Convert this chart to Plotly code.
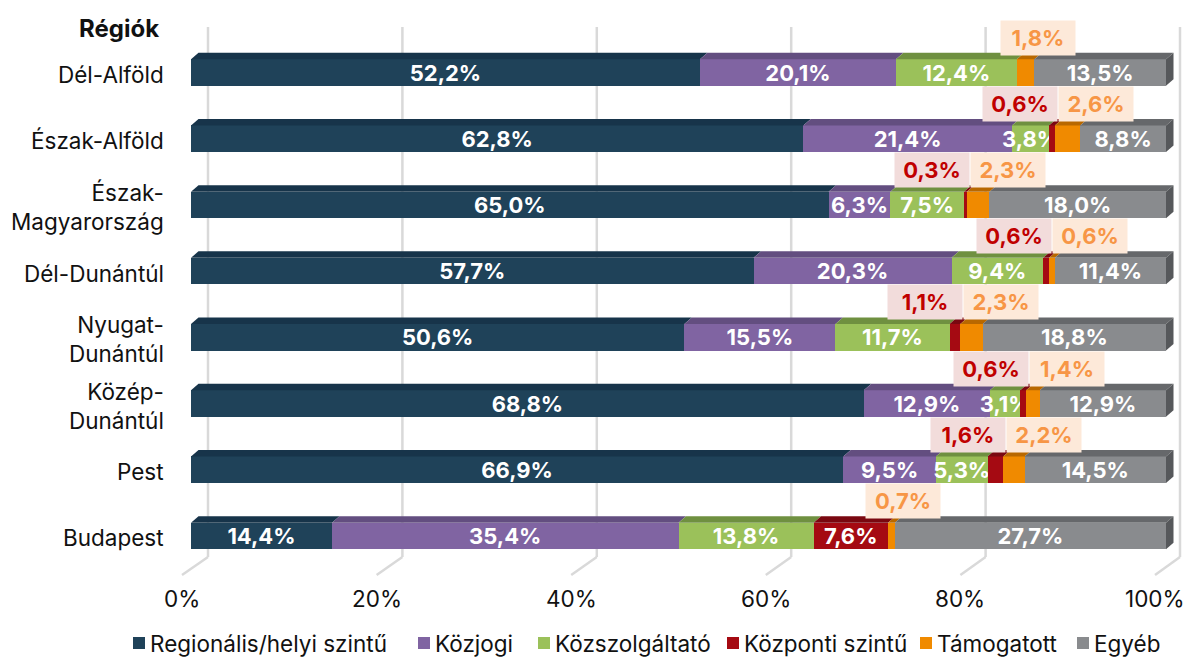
import plotly.graph_objects as go

# ---------------- data ----------------
regions = ["Dél-Alföld", "Észak-Alföld", "Észak-<br>Magyarország", "Dél-Dunántúl",
           "Nyugat-<br>Dunántúl", "Közép-<br>Dunántúl", "Pest", "Budapest"]
series_names = ["Regionális/helyi szintű", "Közjogi", "Közszolgáltató",
                "Központi szintű", "Támogatott", "Egyéb"]
regionalis = [52.2, 62.8, 65.0, 57.7, 50.6, 68.8, 66.9, 14.4]
kozjogi = [20.1, 21.4, 6.3, 20.3, 15.5, 12.9, 9.5, 35.4]
kozszolg = [12.4, 3.8, 7.5, 9.4, 11.7, 3.1, 5.3, 13.8]
kozponti = [0.0, 0.6, 0.3, 0.6, 1.1, 0.6, 1.6, 7.6]
tamogatott = [1.8, 2.6, 2.3, 0.6, 2.3, 1.4, 2.2, 0.7]
egyeb = [13.5, 8.8, 18.0, 11.4, 18.8, 12.9, 14.5, 27.7]
x_ticks = [0, 20, 40, 60, 80, 100]
x_tick_labels = ["0%", "20%", "40%", "60%", "80%", "100%"]

# ---------------- styles ----------------
front_colors = ["#1F4259", "#8064A2", "#9BC15A", "#A50A12", "#F08A00", "#898B8E"]
top_colors = ["#17344A", "#634E80", "#6F9040", "#7A0810", "#B86800", "#66686B"]
side_color = "#56585B"
FONT = "Inter"
W, H = 1191, 658
FS = 22.5               # regular text size
FSB = 22                # bold text size

# page-pixel -> data helpers (plot area spans the full figure)
X0PX, XK = 191.0, 9.75
Y0PX, YK = 72.5, 66.2
def xd(px): return (px - X0PX) / XK
def yd(py): return (py - Y0PX) / YK

BW = 26.5 / YK
DX = 7.5 / XK
DY = 6.5 / YK

def fmt(v): return f"{v:.1f}".replace(".", ",") + "%"

all_series = [regionalis, kozjogi, kozszolg, kozponti, tamogatott, egyeb]
ypos = list(range(len(regions)))

fig = go.Figure()
for k, (name, vals) in enumerate(zip(series_names, all_series)):
    if k == 3:
        texts = [fmt(v) if v >= 5 else "" for v in vals]
    elif k == 4:
        texts = ["" for v in vals]
    else:
        texts = [fmt(v) for v in vals]
    fig.add_trace(go.Bar(
        name=name, y=ypos, x=vals, orientation="h", width=BW,
        marker=dict(color=front_colors[k], line=dict(width=0)),
        text=texts, textposition="inside", insidetextanchor="middle",
        constraintext="none",
        textfont=dict(family=FONT, size=FSB, color="white", weight=700),
        showlegend=False, hoverinfo="skip", cliponaxis=False,
    ))

shapes = []
annotations = []

# back-wall gridlines + floor diagonals
for v in x_ticks:
    gx = xd(208 + 9.72 * v)
    fx = xd(182 + 9.73 * v)
    shapes.append(dict(type="line", layer="below", x0=gx, x1=gx, y0=yd(27), y1=yd(557),
                       line=dict(color="#D9D9D9", width=2.5)))
    shapes.append(dict(type="line", layer="below", x0=gx, x1=fx, y0=yd(557), y1=yd(575),
                       line=dict(color="#D9D9D9", width=2.5)))

# 3D faces and boxed small labels
for i in ypos:
    row = [s[i] for s in all_series]
    tot = sum(row)
    cum = 0.0
    bounds = []
    for v in row:
        a = cum / tot * 100
        cum += v
        b = cum / tot * 100
        bounds.append((a, b))
    yt = i - BW / 2
    yb = i + BW / 2
    for k, (a, b) in enumerate(bounds):
        if b - a <= 0:
            continue
        shapes.append(dict(type="path", layer="above",
                           path=f"M {a},{yt} L {a+DX},{yt-DY} L {b+DX},{yt-DY} L {b},{yt} Z",
                           fillcolor=top_colors[k], line=dict(width=0)))
    b_end = bounds[-1][1]
    shapes.append(dict(type="path", layer="above",
                       path=f"M {b_end},{yt} L {b_end+DX},{yt-DY} L {b_end+DX},{yb-DY} L {b_end},{yb} Z",
                       fillcolor=side_color, line=dict(width=0)))
    # boxed labels above the bar
    ylab = i - 35 / YK
    red_v, org_v = kozponti[i], tamogatott[i]
    org_a, org_b = bounds[4]
    if 0 < red_v < 5:
        junction = org_a + 3 / XK
        annotations.append(dict(x=junction, y=ylab, xanchor="right", yanchor="middle",
                                text=fmt(red_v), showarrow=False, width=72, height=32,
                                bgcolor="#F2DCDB",
                                font=dict(family=FONT, size=FSB, color="#C00000", weight=700)))
        annotations.append(dict(x=junction, y=ylab, xanchor="left", yanchor="middle",
                                text=fmt(org_v), showarrow=False, width=72, height=32,
                                bgcolor="#FDE9D9",
                                font=dict(family=FONT, size=FSB, color="#F79646", weight=700)))
    else:
        cx = (org_a + org_b) / 2 + 12 / XK
        annotations.append(dict(x=cx, y=ylab, xanchor="center", yanchor="middle",
                                text=fmt(org_v), showarrow=False, width=72, height=32,
                                bgcolor="#FDE9D9",
                                font=dict(family=FONT, size=FSB, color="#F79646", weight=700)))

# category labels
for i, r in enumerate(regions):
    annotations.append(dict(x=xd(166), y=i + 2 / YK, xanchor="right", yanchor="middle",
                            text=r, showarrow=False, align="right",
                            font=dict(family=FONT, size=FS, color="#111111")))
annotations.append(dict(x=xd(161), y=yd(28), xanchor="right", yanchor="middle",
                        text="Régiók", showarrow=False,
                        font=dict(family=FONT, size=24, color="#111111", weight=700)))

# x tick labels
for v, lab in zip(x_ticks, x_tick_labels):
    annotations.append(dict(x=xd(182 + 9.73 * v), y=yd(598), xanchor="center", yanchor="middle",
                            text=lab, showarrow=False,
                            font=dict(family=FONT, size=FS, color="#111111")))

# legend
legend_x = [133, 418, 538, 727, 920, 1077]
for k, (name, lx) in enumerate(zip(series_names, legend_x)):
    shapes.append(dict(type="rect", layer="above", x0=xd(lx), x1=xd(lx + 12),
                       y0=yd(637), y1=yd(649), fillcolor=front_colors[k], line=dict(width=0)))
    annotations.append(dict(x=xd(lx + 15), y=yd(643), xanchor="left", yanchor="middle",
                            text=name, showarrow=False,
                            font=dict(family=FONT, size=FS, color="#111111")))

fig.update_layout(
    width=W, height=H, barmode="stack", barnorm="percent",
    margin=dict(l=0, r=0, t=0, b=0),
    paper_bgcolor="white", plot_bgcolor="white",
    xaxis=dict(range=[xd(0), xd(W)], visible=False, fixedrange=True),
    yaxis=dict(range=[yd(H), yd(0)], visible=False, fixedrange=True),
    shapes=shapes, annotations=annotations, showlegend=False,
)

fig.write_html("out.html", config={"displayModeBar": False},
               post_script="document.body.style.margin='0';document.body.style.overflow='hidden';")
